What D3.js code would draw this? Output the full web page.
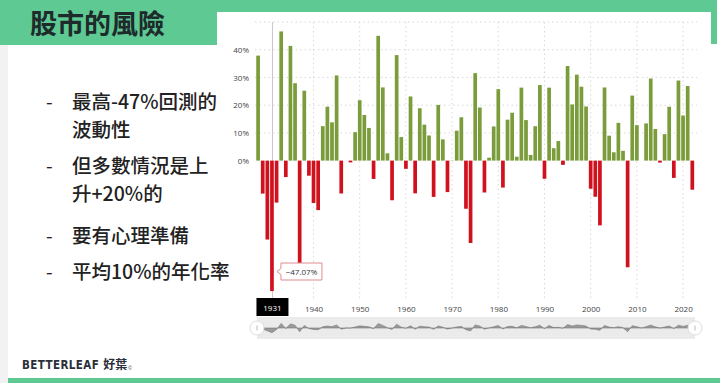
<!DOCTYPE html>
<html>
<head>
<meta charset="utf-8">
<script src="https://cdn.jsdelivr.net/npm/d3@7"></script>
<style>
  body { margin: 0; background: #fff; }
  svg { display: block; }
</style>
</head>
<body>
<div id="chart"></div>
<script>
// S&P 500 annual returns (%), 1928 - 2022
var years = d3.range(1928, 2023);
var returns = [
  37.88, -11.91, -28.48, -47.07, -15.15, 46.59, -5.94, 41.37, 27.92, -38.59,
  25.21, -5.45, -15.29, -17.86, 12.43, 19.45, 13.80, 30.72, -11.87, 0.00,
  -0.65, 10.26, 21.78, 16.46, 11.78, -6.62, 45.02, 26.40, 2.62, -14.31,
  38.06, 8.48, -2.97, 23.13, -11.81, 18.89, 12.97, 9.06, -13.09, 20.09,
  7.66, -11.36, 0.10, 10.79, 15.63, -17.37, -29.72, 31.55, 19.15, -11.50,
  1.06, 12.31, 25.77, -9.73, 14.76, 17.27, 1.40, 26.33, 14.62, 2.03,
  12.40, 27.25, -6.56, 26.31, 4.46, 7.06, -1.54, 34.11, 20.26, 31.01,
  26.67, 19.53, -10.14, -13.04, -23.37, 26.38, 8.99, 3.00, 13.62, 3.53,
  -38.49, 23.45, 12.78, 0.00, 13.41, 29.60, 11.39, -0.73, 9.54, 19.42,
  -6.24, 28.88, 16.26, 26.89, -10.5
];
var xTicks = [1940, 1950, 1960, 1970, 1980, 1990, 2000, 2010, 2020];
var yTicks = [0, 10, 20, 30, 40];
var yGrid = [10, 20, 30, 40, 50];
var bullets = [
  ["最高-47%回測的", "波動性"],
  ["但多數情況是上", "升+20%的"],
  ["要有心理準備"],
  ["平均10%的年化率"]
];
var hoverYear = 1931;

var data = years.map(function(y, i) { return { year: y, value: returns[i] }; });

var W = 720, H = 383;
var green = "#5ec993";
var cjk = "'Noto Sans CJK TC', 'Noto Sans', sans-serif";

var svg = d3.select("#chart").append("svg")
  .attr("width", W).attr("height", H);

// slide frame
svg.append("rect").attr("x", 0).attr("y", 0).attr("width", 8).attr("height", H).attr("fill", "#f2f2f2");
svg.append("rect").attr("x", 0).attr("y", 0).attr("width", 717).attr("height", 12).attr("fill", green);
svg.append("rect").attr("x", 0).attr("y", 0).attr("width", 217).attr("height", 45).attr("fill", green);
svg.append("rect").attr("x", 711).attr("y", 0).attr("width", 6).attr("height", 44).attr("fill", green);
svg.append("rect").attr("x", 8).attr("y", 378).attr("width", W - 8).attr("height", 5).attr("fill", green);

svg.append("text")
  .attr("x", 30).attr("y", 34)
  .attr("font-family", cjk).attr("font-weight", 700).attr("font-size", 27)
  .attr("fill", "#1d2b2b")
  .text("股市的風險");

// bullets
var lineY = [[102, 130], [166, 194], [236], [272]];
bullets.forEach(function(b, i) {
  svg.append("text").attr("x", 46).attr("y", lineY[i][0] + 7)
    .attr("font-family", cjk).attr("font-size", 19).attr("fill", "#222").text("-");
  b.forEach(function(line, j) {
    svg.append("text").attr("x", 72).attr("y", lineY[i][j] + 7)
      .attr("font-family", cjk).attr("font-weight", 500).attr("font-size", 19.5).attr("fill", "#222").text(line);
  });
});

// logo (one text so the pieces flow without overlap)
var logo = svg.append("text").attr("x", 22).attr("y", 369).attr("fill", "#2a2f3a");
logo.append("tspan")
  .attr("font-family", "'Liberation Sans Narrow', 'DejaVu Sans Condensed', sans-serif")
  .attr("font-weight", 700).attr("font-size", 11.5).attr("letter-spacing", 0.4)
  .text("BETTERLEAF");
logo.append("tspan").attr("dx", 4)
  .attr("font-family", cjk).attr("font-weight", 700).attr("font-size", 12)
  .text("好葉");
logo.append("tspan").attr("dx", 1).attr("dy", 1)
  .attr("font-family", "sans-serif").attr("font-size", 5)
  .text("©");

// chart
var x = d3.scaleLinear().domain([1928, 2022]).range([258.1, 692.3]);
var y = d3.scaleLinear().domain([-50, 50]).range([299.2, 22]);
var barW = 3.7;
var plotL = 255, plotR = 697;

var g = svg.append("g");

g.selectAll(".hgrid").data(yGrid).enter().append("line")
  .attr("x1", plotL).attr("x2", plotR)
  .attr("y1", function(d) { return y(d); }).attr("y2", function(d) { return y(d); })
  .attr("stroke", "#d8d8d8").attr("stroke-width", 1).attr("stroke-dasharray", "1.5,3");

g.selectAll(".vgrid").data(xTicks).enter().append("line")
  .attr("x1", function(d) { return x(d); }).attr("x2", function(d) { return x(d); })
  .attr("y1", y(50)).attr("y2", y(-50))
  .attr("stroke", "#d8d8d8").attr("stroke-width", 1).attr("stroke-dasharray", "1.5,3");

// crosshair
g.append("line")
  .attr("x1", x(hoverYear) + 0.5).attr("x2", x(hoverYear) + 0.5)
  .attr("y1", y(50)).attr("y2", y(-50))
  .attr("stroke", "#c8c8c8").attr("stroke-width", 1);

g.selectAll(".bar").data(data).enter().append("rect")
  .attr("x", function(d) { return x(d.year) - barW / 2; })
  .attr("width", barW)
  .attr("y", function(d) { return y(Math.max(0, d.value)); })
  .attr("height", function(d) { return Math.abs(y(d.value) - y(0)); })
  .attr("fill", function(d) { return d.value >= 0 ? "#7a9c3a" : "#d0121e"; });

// y axis labels
var yAxis = d3.axisLeft(y).tickValues(yTicks).tickSize(0).tickFormat(function(d) { return d + "%"; });
var ya = g.append("g").attr("transform", "translate(252,0)").call(yAxis);
ya.select(".domain").remove();
ya.selectAll("text").attr("font-family", "'Open Sans', sans-serif").attr("font-size", 8).attr("fill", "#444");

// x axis labels
var xAxis = d3.axisBottom(x).tickValues(xTicks).tickSize(0).tickFormat(d3.format("d"));
var xa = g.append("g").attr("transform", "translate(0,303)").call(xAxis);
xa.select(".domain").remove();
xa.selectAll("text").attr("font-family", "'Open Sans', sans-serif").attr("font-size", 8).attr("fill", "#444");

// hovered year label
var hx = x(hoverYear);
g.append("rect").attr("x", hx - 15.5).attr("y", 298).attr("width", 32).attr("height", 18).attr("fill", "#000");
g.append("text").attr("x", hx + 0.5).attr("y", 310.5).attr("text-anchor", "middle")
  .attr("font-family", "'Open Sans', sans-serif").attr("font-size", 8).attr("fill", "#fff")
  .text(hoverYear);

// value tooltip
var hv = returns[years.indexOf(hoverYear)];
var tx = hx + 5, ty = 263, tw = 45, th = 17;
g.append("path")
  .attr("d", "M" + (tx + 4) + "," + ty + " H" + (tx + tw) + " V" + (ty + th) + " H" + (tx + 4) +
    " V" + (ty + th / 2 + 3) + " L" + tx + "," + (ty + th / 2) + " L" + (tx + 4) + "," + (ty + th / 2 - 3) + " Z")
  .attr("fill", "#fff").attr("stroke", "#e08a8f").attr("stroke-width", 1);
g.append("text").attr("x", tx + 4 + (tw - 4) / 2).attr("y", ty + 12).attr("text-anchor", "middle")
  .attr("font-family", "'Open Sans', sans-serif").attr("font-size", 8).attr("fill", "#333")
  .text(d3.format(".2f")(hv) + "%");

// navigator
var navTop = 317, navBot = 339;
var ny = d3.scaleLinear().domain([-50, 50]).range([navBot, navTop]);
g.append("rect").attr("x", 257).attr("y", navTop).attr("width", 438).attr("height", navBot - navTop)
  .attr("fill", "#ebebeb");
var area = d3.area()
  .x(function(d) { return x(d.year); })
  .y0(ny(0))
  .y1(function(d) { return ny(d.value * 0.45); });
g.append("path").datum(data).attr("d", area)
  .attr("fill", "#9a9a9a").attr("stroke", "#777").attr("stroke-width", 0.6);

[257, 695].forEach(function(cx) {
  g.append("circle").attr("cx", cx).attr("cy", (navTop + navBot) / 2).attr("r", 7)
    .attr("fill", "#fff").attr("stroke", "#ddd").attr("stroke-width", 1);
  g.append("line").attr("x1", cx).attr("x2", cx)
    .attr("y1", (navTop + navBot) / 2 - 2.5).attr("y2", (navTop + navBot) / 2 + 2.5)
    .attr("stroke", "#bbb").attr("stroke-width", 1);
});
</script>
</body>
</html>
